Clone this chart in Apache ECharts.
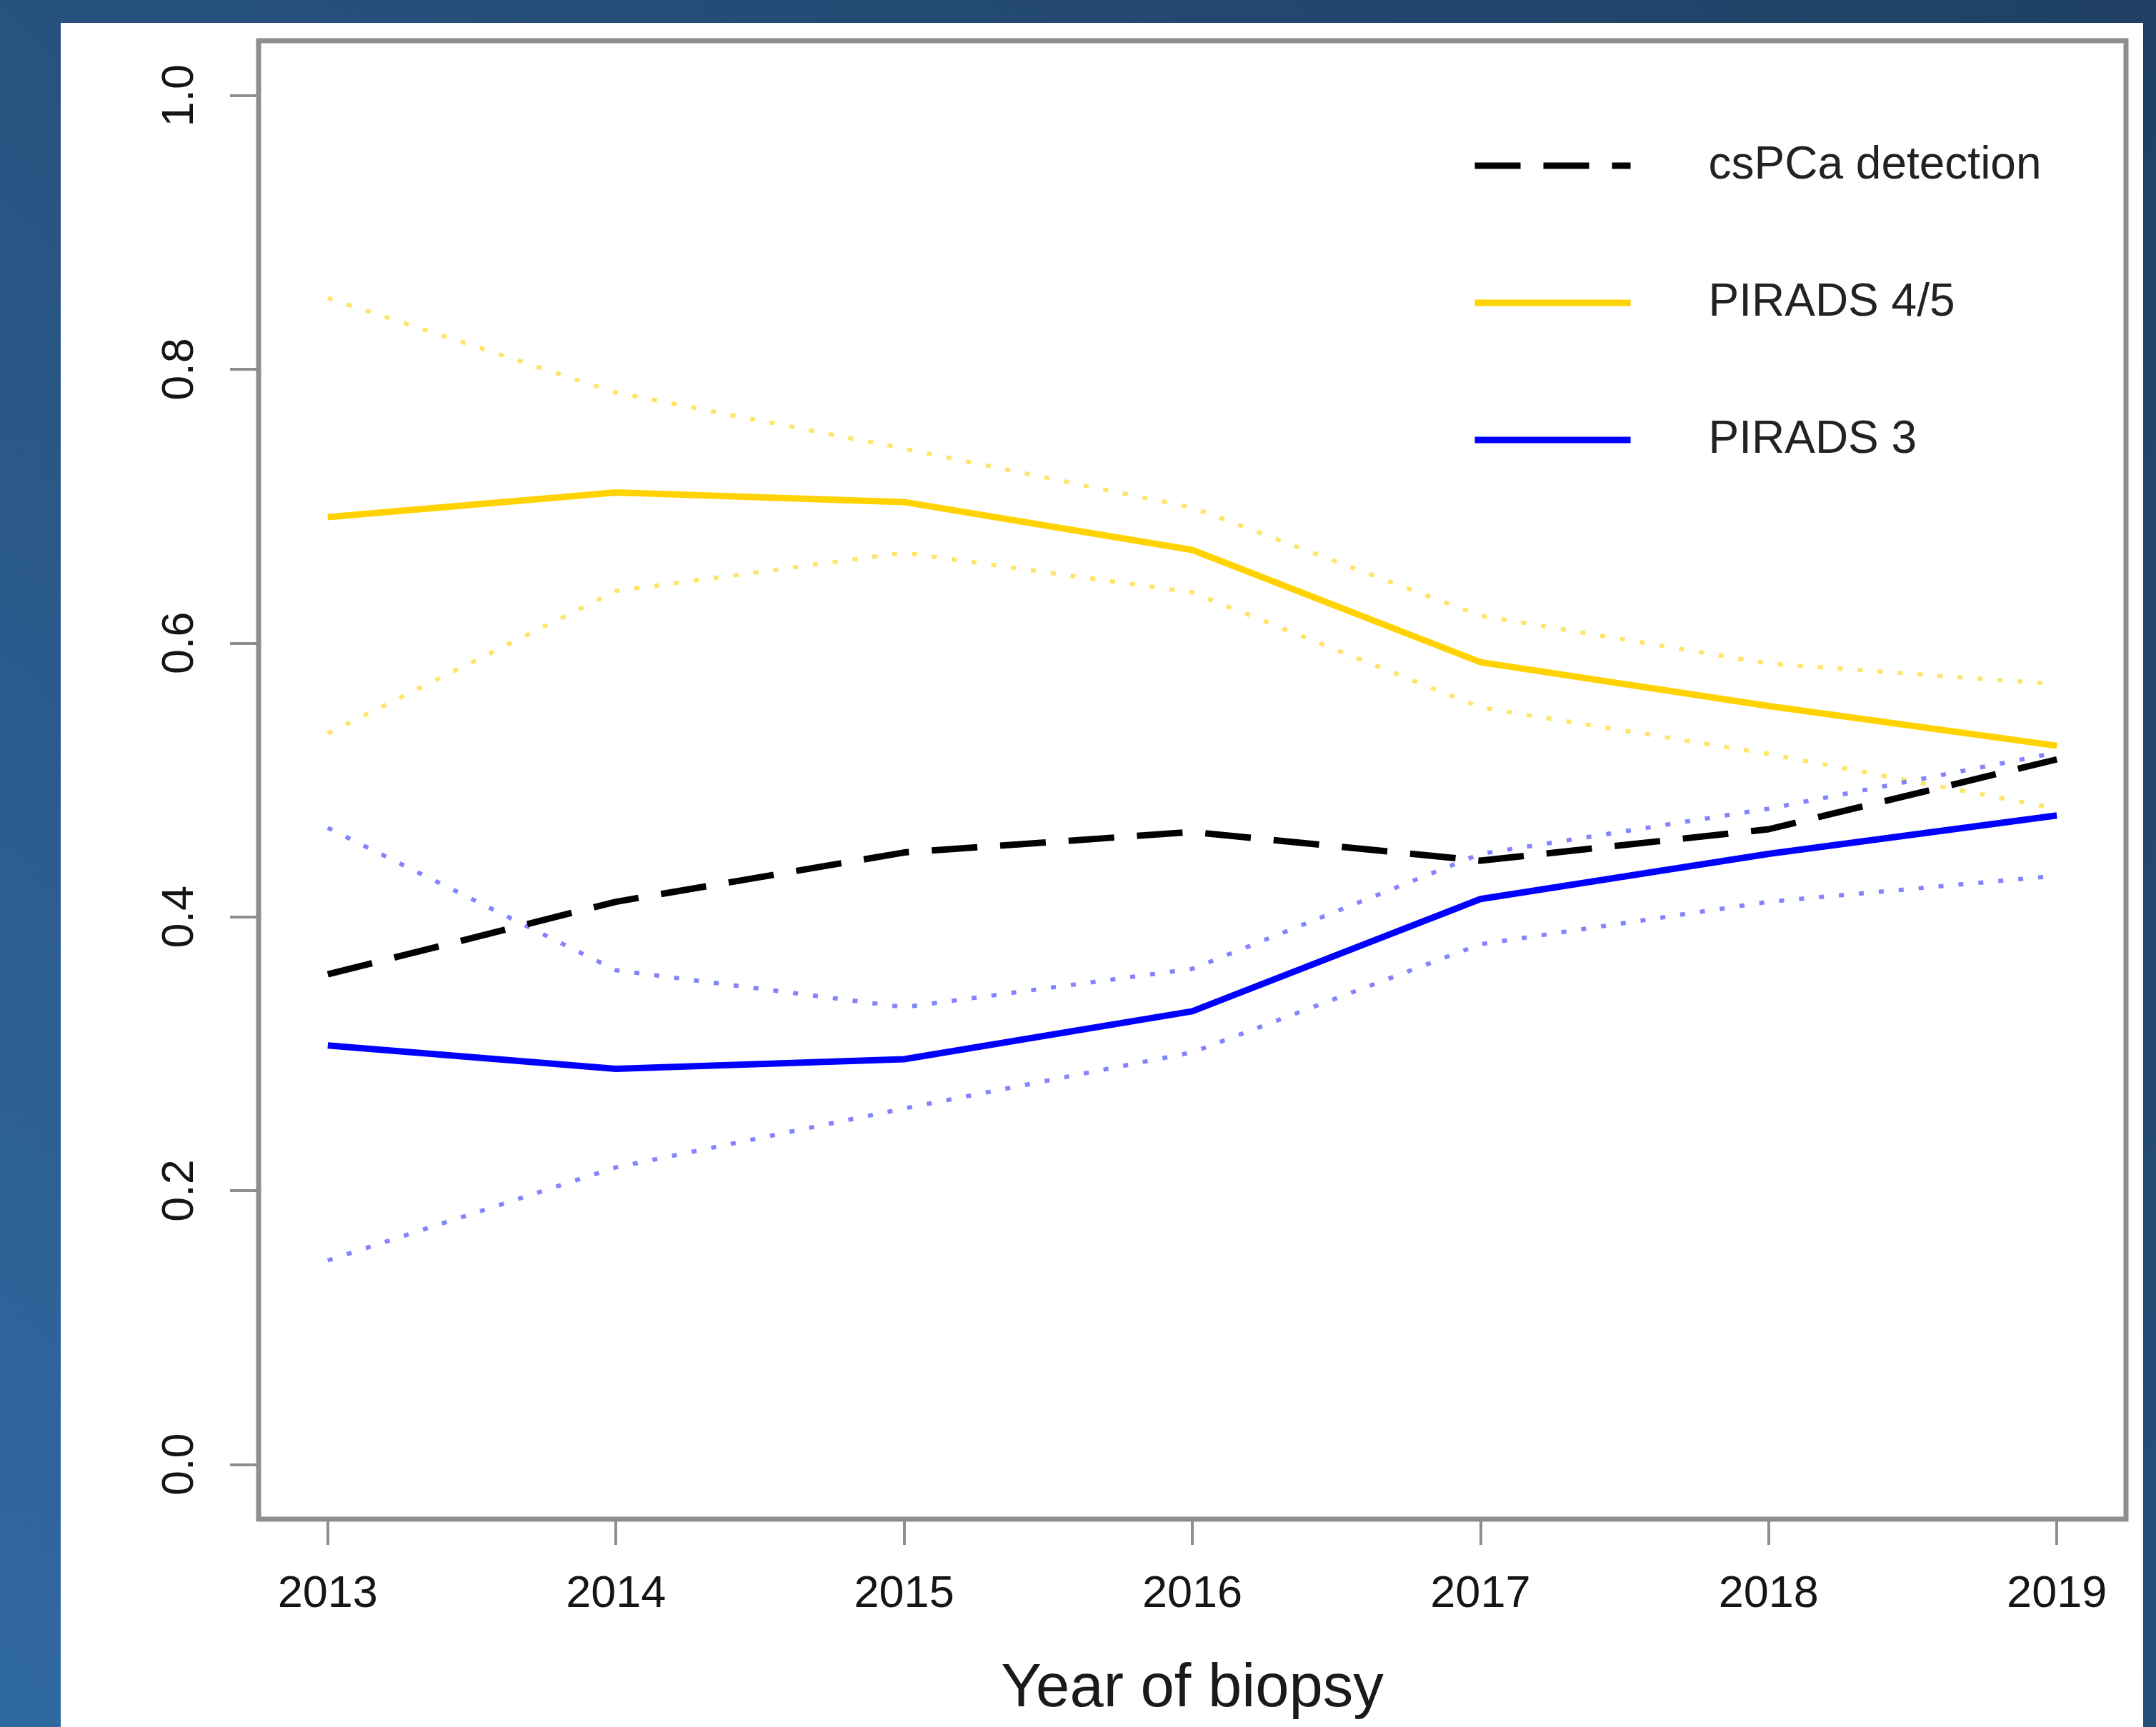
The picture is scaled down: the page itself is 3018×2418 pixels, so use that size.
<!DOCTYPE html>
<html>
<head>
<meta charset="utf-8">
<script src="https://cdn.jsdelivr.net/npm/echarts@6/dist/echarts.min.js"></script>
<style>
  html, body { margin: 0; padding: 0; }
  body { width: 3018px; height: 2418px; position: relative; overflow: hidden;
    background: linear-gradient(45deg, #3069a1 0%, #27527f 45%, #1f4064 100%); }
  #panel { position: absolute; left: 85px; top: 32px; width: 2915px; height: 2386px; background: #fff; }
  #c { position: absolute; left: 0; top: 0; width: 3018px; height: 2418px; }
</style>
</head>
<body>
<div id="panel"></div>
<div id="c"></div>
<script>
/* detection rate by biopsy year, with dotted CI bands for the PIRADS groups */
const years = [2013, 2014, 2015, 2016, 2017, 2018, 2019];
const cspca = [0.358, 0.411, 0.447, 0.462, 0.441, 0.464, 0.515];
const pirads45 = [0.692, 0.710, 0.703, 0.668, 0.586, 0.554, 0.525];
const pirads45Hi = [0.852, 0.783, 0.742, 0.699, 0.620, 0.585, 0.570];
const pirads45Lo = [0.534, 0.638, 0.666, 0.637, 0.553, 0.519, 0.479];
const pirads3 = [0.306, 0.289, 0.296, 0.331, 0.413, 0.446, 0.474];
const pirads3Hi = [0.465, 0.361, 0.334, 0.362, 0.446, 0.479, 0.520];
const pirads3Lo = [0.149, 0.217, 0.260, 0.301, 0.380, 0.411, 0.430];
const yTicks = [0, 0.2, 0.4, 0.6, 0.8, 1.0];

const FONT = '"Liberation Sans", Arial, Helvetica, sans-serif';
const GRAY = '#8e8e8e';
const DOTS = [7, 21];
const pts = vals => years.map((y, i) => [y, vals[i]]);

// symbol is 'none'; the transparent item colour only hides the dot ECharts puts on legend icons
const line = (name, vals, color, width, type, z) => ({
  name, type: 'line', data: pts(vals), symbol: 'none', smooth: false, z,
  lineStyle: { color, width, type, cap: 'butt' }, itemStyle: { color: 'rgba(0,0,0,0)' },
  emphasis: { disabled: true }, animation: false,
});

const chart = echarts.init(document.getElementById('c'), null, { renderer: 'canvas' });
chart.setOption({
  animation: false,
  grid: { left: 362, right: 42, top: 57, bottom: 291, outerBoundsMode: 'none', containLabel: false,
    show: true, borderColor: GRAY, borderWidth: 7, backgroundColor: 'transparent' },
  legend: {
    data: ['csPCa detection', 'PIRADS 4/5', 'PIRADS 3'],
    orient: 'vertical', left: 2055, top: 195, itemWidth: 218, itemHeight: 20, itemGap: 128,
    lineStyle: { width: 'inherit', type: 'inherit' },
    textStyle: { fontFamily: FONT, fontSize: 64, color: '#222', padding: [0, 0, 0, 104] },
    selectedMode: false,
  },
  xAxis: {
    type: 'value', min: 2012.76, max: 2019.24,
    axisLine: { show: false, onZero: false }, splitLine: { show: false },
    axisTick: { show: true, length: 36, customValues: years, lineStyle: { color: GRAY, width: 4 } },
    axisLabel: { customValues: years, margin: 74, fontFamily: FONT, fontSize: 63, color: '#151515', formatter: v => String(v) },
    name: 'Year of biopsy', nameLocation: 'middle', nameGap: 196,
    nameTextStyle: { fontFamily: FONT, fontSize: 85, color: '#1a1a1a' },
  },
  yAxis: {
    type: 'value', min: -0.04, max: 1.04,
    axisLine: { show: false, onZero: false }, splitLine: { show: false },
    axisTick: { show: true, length: 40, customValues: yTicks, lineStyle: { color: GRAY, width: 4 } },
    axisLabel: { customValues: yTicks, rotate: 90, margin: 78, fontFamily: FONT, fontSize: 63, color: '#151515', formatter: v => v.toFixed(1) },
  },
  series: [
    line('PIRADS 4/5 upper', pirads45Hi, 'rgba(255,210,0,0.6)', 6, DOTS, 2),
    line('PIRADS 4/5 lower', pirads45Lo, 'rgba(255,210,0,0.6)', 6, DOTS, 2),
    line('PIRADS 3 upper', pirads3Hi, 'rgba(30,30,255,0.55)', 6, DOTS, 2),
    line('PIRADS 3 lower', pirads3Lo, 'rgba(30,30,255,0.55)', 6, DOTS, 2),
    line('PIRADS 4/5', pirads45, '#ffd200', 9, 'solid', 3),
    line('PIRADS 3', pirads3, '#0000ff', 9, 'solid', 3),
    line('csPCa detection', cspca, '#000000', 9, [64, 32], 4),
  ],
});
</script>
</body>
</html>
